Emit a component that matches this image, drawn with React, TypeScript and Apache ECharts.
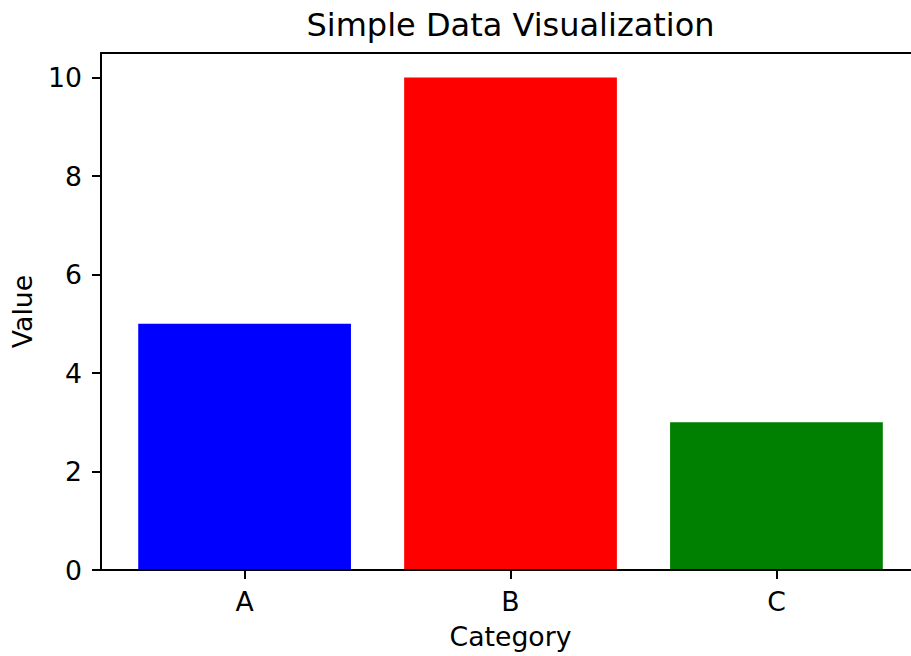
import React, { useEffect, useRef } from "react";
import * as echarts from "echarts";

const categories = ["A", "B", "C"];
const values = [5, 10, 3];
const barColors = ["#0000ff", "#ff0000", "#008000"];
const yTicks = [0, 2, 4, 6, 8, 10];
const xTicks = [0, 1, 2];

const FONT = "DejaVu Sans";
// visible x-range (the figure is cropped at the right edge of the canvas)
const X_MIN = -0.54;
const X_MAX_VISIBLE = 2.506;

export default function App() {
  const ref = useRef<HTMLDivElement>(null);
  useEffect(() => {
    if (!ref.current) return;
    const chart = echarts.init(ref.current, undefined, { renderer: "svg" });
    const axisLine = { show: true, onZero: false, lineStyle: { color: "#000", width: 2 } };
    const option: any = {
      animation: false,
      backgroundColor: "#fff",
      grid: { left: 101, right: 0, top: 53, bottom: 86 },
      xAxis: [
        {
          type: "value",
          min: X_MIN,
          max: X_MAX_VISIBLE,
          z: 5,
          axisLine: axisLine,
          axisTick: { show: true, length: 9, lineStyle: { color: "#000", width: 2 }, customValues: xTicks },
          axisLabel: {
            customValues: xTicks,
            formatter: (v: number) => categories[Math.round(v)] ?? "",
            color: "#000",
            fontFamily: FONT,
            fontSize: 26.7,
            margin: 18,
          },
          splitLine: { show: false },
        },
        {
          type: "value",
          position: "top",
          min: X_MIN,
          max: X_MAX_VISIBLE,
          z: 5,
          axisLine: axisLine,
          axisTick: { show: false },
          axisLabel: { show: false },
          splitLine: { show: false },
        },
      ],
      yAxis: {
        type: "value",
        min: 0,
        max: 10.5,
        z: 5,
        axisLine: axisLine,
        axisTick: { show: true, length: 9, lineStyle: { color: "#000", width: 2 }, customValues: yTicks },
        axisLabel: {
          customValues: yTicks,
          color: "#000",
          fontFamily: FONT,
          fontSize: 26.7,
          margin: 19,
        },
        splitLine: { show: false },
      },
      graphic: [
        {
          type: "text",
          x: 510.5,
          y: 24.6,
          style: {
            text: "Simple Data Visualization",
            font: `32px '${FONT}'`,
            fill: "#000",
            textAlign: "center",
            textVerticalAlign: "middle",
          },
        },
        {
          type: "text",
          x: 510.5,
          y: 636.5,
          style: {
            text: "Category",
            font: `26.7px '${FONT}'`,
            fill: "#000",
            textAlign: "center",
            textVerticalAlign: "middle",
          },
        },
        {
          type: "text",
          x: 22.8,
          y: 311.5,
          rotation: Math.PI / 2,
          style: {
            text: "Value",
            font: `26.7px '${FONT}'`,
            fill: "#000",
            textAlign: "center",
            textVerticalAlign: "middle",
          },
        },
      ],
      series: [
        {
          type: "bar",
          xAxisIndex: 0,
          barWidth: 200,
          data: values.map((v, i) => ({ value: [xTicks[i], v], itemStyle: { color: barColors[i] } })),
        },
      ],
    };
    chart.setOption(option);
    const p0 = chart.convertToPixel({ xAxisIndex: 0 }, 0) as number;
    const p1 = chart.convertToPixel({ xAxisIndex: 0 }, 0.8) as number;
    chart.setOption({ series: [{ barWidth: Math.abs(p1 - p0) }] });
    return () => chart.dispose();
  }, []);
  return (
    <div
      ref={ref}
      style={{ position: "fixed", left: 0, top: 0, width: 911, height: 656, background: "#fff" }}
    />
  );
}
